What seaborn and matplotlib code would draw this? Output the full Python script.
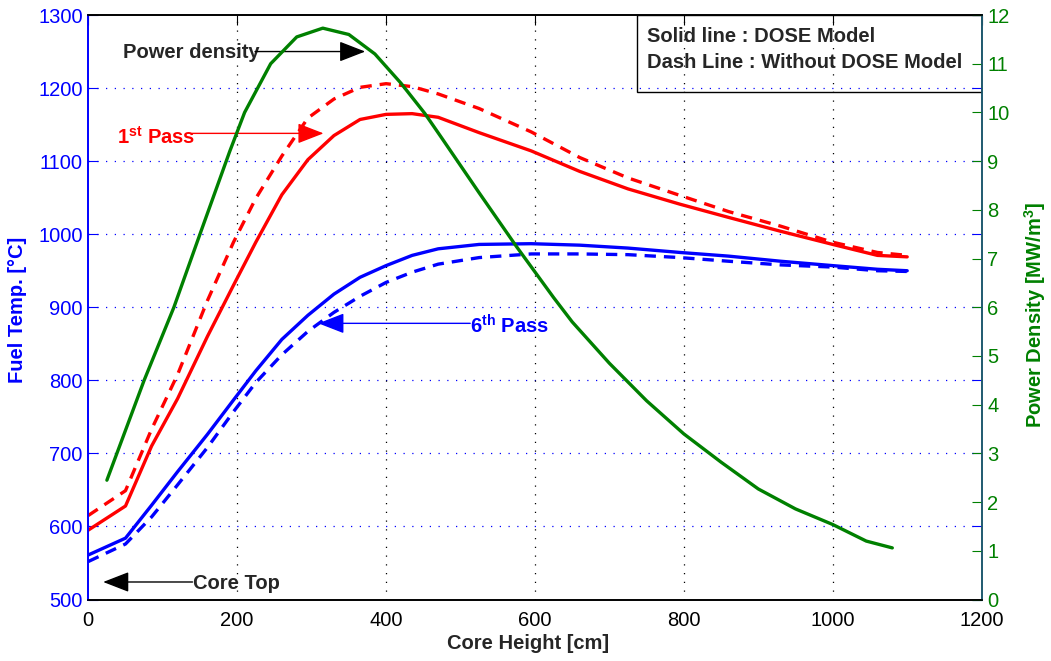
import matplotlib
matplotlib.use("Agg")

import numpy as np
import pandas as pd

import matplotlib.pyplot as plt
from matplotlib.patches import Rectangle
import seaborn as sns

# ==========================================
# DATA
# ==========================================

core_height = [0, 50, 85, 120, 160, 195, 225, 260, 295, 330, 365, 400,
               435, 470, 525, 595, 660, 725, 795, 860, 930, 1000, 1060, 1100]

temp_1st_dose = [595, 628, 710, 775, 860, 930, 989, 1054, 1102, 1135, 1157, 1164,
                 1165, 1160, 1139, 1114, 1086, 1062, 1041, 1023, 1004, 986, 971, 969]

temp_1st_nodose = [615, 649, 733, 808, 909, 989, 1049, 1107, 1159, 1185, 1201, 1206,
                   1202, 1192, 1172, 1140, 1105, 1077, 1053, 1031, 1011, 989, 975, 971]

temp_6th_dose = [561, 584, 629, 675, 726, 773, 813, 856, 889, 918, 941, 957,
                 971, 980, 986, 987, 985, 981, 975, 970, 963, 957, 952, 950]

temp_6th_nodose = [552, 576, 613, 657, 708, 757, 797, 835, 867, 893, 915, 934,
                   948, 959, 968, 973, 973, 972, 968, 963, 958, 955, 950, 949]

pd_height = [25, 75, 115, 150, 190, 210, 245, 280, 315, 350, 385, 420, 452,
             475, 525, 575, 625, 650, 700, 750, 800, 850, 900, 950, 1000,
             1045, 1080]

power_density = [2.45, 4.5, 6.0, 7.5, 9.2, 10.0, 11.0, 11.55, 11.73, 11.6, 11.2,
                 10.6, 9.98, 9.47, 8.35, 7.25, 6.2, 5.7, 4.85, 4.08, 3.4,
                 2.82, 2.27, 1.86, 1.54, 1.2, 1.06]

x_ticks = [0, 200, 400, 600, 800, 1000, 1200]
temp_ticks = [500, 600, 700, 800, 900, 1000, 1100, 1200, 1300]
pd_ticks = list(range(0, 13))

# ==========================================
# STYLE
# ==========================================

sns.set_style("white")

plt.rcParams["font.family"] = ["Liberation Sans", "DejaVu Sans"]
plt.rcParams["mathtext.fontset"] = "custom"
plt.rcParams["mathtext.rm"] = "Liberation Sans"
plt.rcParams["mathtext.bf"] = "Liberation Sans:bold"

RED = "#ff0000"
BLUE = "#0000ff"
GREEN = "#008000"
LW = 2.4
DASH = (3.4, 2.4)

fig = plt.figure(figsize=(10.51, 6.61), dpi=100)

ax = fig.add_axes([0.0840, 0.0930, 0.8500, 0.8843])
ax2 = ax.twinx()

# ==========================================
# TEMPERATURE CURVES
# ==========================================

temps = pd.DataFrame({
    "height": core_height,
    "first_dose": temp_1st_dose,
    "first_nodose": temp_1st_nodose,
    "sixth_dose": temp_6th_dose,
    "sixth_nodose": temp_6th_nodose,
})

for col, color, dashed in [
    ("first_nodose", RED, True),
    ("first_dose", RED, False),
    ("sixth_nodose", BLUE, True),
    ("sixth_dose", BLUE, False),
]:
    sns.lineplot(
        data=temps,
        x="height",
        y=col,
        ax=ax,
        color=color,
        lw=LW
    )
    if dashed:
        ax.lines[-1].set_dashes(DASH)

# ==========================================
# POWER DENSITY
# ==========================================

sns.lineplot(
    x=pd_height,
    y=power_density,
    ax=ax2,
    color=GREEN,
    lw=LW
)

# ==========================================
# AXES
# ==========================================

ax.set_xlim(0, 1200)
ax.set_ylim(500, 1300)
ax2.set_ylim(0, 12)

ax.set_xticks(x_ticks)
ax.set_yticks(temp_ticks)
ax2.set_yticks(pd_ticks)

ax.grid(False)
ax2.grid(False)

for t in temp_ticks[1:-1]:
    ax.axhline(t, color=BLUE, lw=0.9, ls=(0, (1, 6)), zorder=0)

for t in x_ticks[1:-1]:
    ax.axvline(t, color="black", lw=0.9, ls=(0, (1, 6)), zorder=0)

ax.tick_params(axis="x", direction="in", length=7, top=True,
               labelsize=14.5, colors="black", pad=8.5)
ax.tick_params(axis="y", direction="in", length=7, right=True,
               labelsize=14.5, colors=BLUE, pad=4)
ax2.tick_params(axis="y", direction="in", length=7,
                labelsize=14.5, colors=GREEN, pad=4)

for a in (ax, ax2):
    a.spines["top"].set_color("black")
    a.spines["bottom"].set_color("black")
    a.spines["left"].set_color(BLUE)
    a.spines["right"].set_color("#1f5a70")
    for s in a.spines.values():
        s.set_linewidth(1.2)

ax.set_xlabel("Core Height [cm]", fontsize=14.5, fontweight="bold",
              va="center")
ax.xaxis.set_label_coords(0.492, -0.075)

ax.set_ylabel("Fuel Temp. [\u00b0C]", fontsize=14.5, fontweight="bold",
              color=BLUE, va="center")
ax.yaxis.set_label_coords(-0.079, 0.495)

ax2.set_ylabel(r"Power Density [MW/m$^{\mathbf{3}}$]", fontsize=14.5,
               fontweight="bold", color=GREEN, va="center", rotation=90)
ax2.yaxis.set_label_coords(1.060, 0.487)

# ==========================================
# ANNOTATIONS
# ==========================================

arrow = dict(arrowstyle="-|>,head_length=0.9,head_width=0.35",
             lw=1.0, shrinkA=0, shrinkB=0, mutation_scale=18)

ax.text(47, 1241, "Power density", fontsize=14.5, fontweight="bold",
        va="baseline")
ax.annotate("", xy=(372, 1250), xytext=(224, 1250),
            arrowprops=dict(arrow, color="black"))

ax.text(38, 1124, r"1$^{\mathbf{st}}$ Pass", fontsize=14.5,
        fontweight="bold", color=RED, va="baseline")
ax.annotate("", xy=(316, 1138), xytext=(139, 1138),
            arrowprops=dict(arrow, color=RED))

ax.text(513, 864, r"6$^{\mathbf{th}}$ Pass", fontsize=14.5,
        fontweight="bold", color=BLUE, va="baseline")
ax.annotate("", xy=(309, 878), xytext=(513, 878),
            arrowprops=dict(arrow, color=BLUE))

ax.text(140, 514, "Core Top", fontsize=14.5, fontweight="bold",
        va="baseline")
ax.annotate("", xy=(20, 524), xytext=(140, 524),
            arrowprops=dict(arrow, color="black"))

# legend-like note box
ax.add_patch(Rectangle(
    (0.614, 0.869), 0.386, 0.131,
    transform=ax.transAxes, fill=False,
    edgecolor="black", lw=1.0, zorder=5
))

ax.text(0.625, 0.964, "Solid line : DOSE Model", transform=ax.transAxes,
        fontsize=14.5, fontweight="bold", va="center")
ax.text(0.625, 0.919, "Dash Line : Without DOSE Model", transform=ax.transAxes,
        fontsize=14.5, fontweight="bold", va="center")

plt.savefig("out.png", dpi=100)
plt.close()
